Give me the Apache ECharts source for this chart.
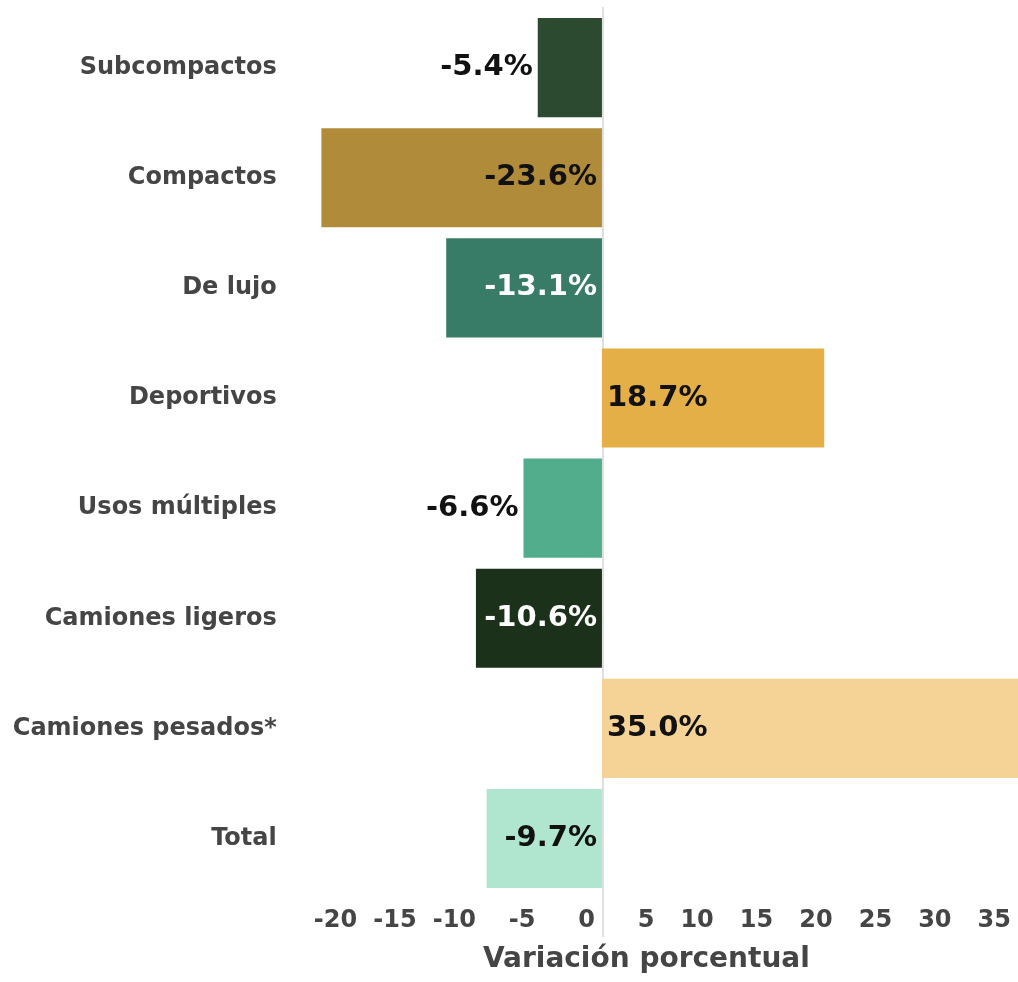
<!DOCTYPE html>
<html>
<head>
<meta charset="utf-8">
<script src="https://cdn.jsdelivr.net/npm/echarts@6/dist/echarts.min.js"></script>
<style>
  html, body { margin: 0; padding: 0; background: #ffffff; }
  #chart { width: 1018px; height: 982px; }
</style>
</head>
<body>
<div id="chart"></div>
<script>
// ---- data ----
const categories = ['Subcompactos', 'Compactos', 'De lujo', 'Deportivos', 'Usos múltiples', 'Camiones ligeros', 'Camiones pesados*', 'Total'];
const values = [-5.4, -23.6, -13.1, 18.7, -6.6, -10.6, 35.0, -9.7];
const tickValues = [-20, -15, -10, -5, 0, 5, 10, 15, 20, 25, 30, 35];
const axisTitle = 'Variación porcentual';

// ---- style ----
const barColors = ['#2b4a2f', '#b08b3a', '#387c68', '#e4af47', '#52ad8d', '#1c3119', '#f5d295', '#b0e6d0'];
const labelColors = ['#111111', '#111111', '#ffffff', '#111111', '#111111', '#ffffff', '#111111', '#111111'];
const FONT = '"DejaVu Sans", sans-serif';
const GRAY = '#454545';

const chart = echarts.init(document.getElementById('chart'), null, { renderer: 'canvas' });

const seriesData = values.map((v, i) => {
  let pos;
  if (v >= 0) pos = 'insideLeft';
  else if (Math.abs(v) < 8) pos = 'left';
  else pos = 'insideRight';
  return {
    value: v,
    itemStyle: { color: barColors[i] },
    label: { position: pos, color: labelColors[i] }
  };
});

const option = {
  animation: false,
  backgroundColor: '#ffffff',
  grid: { left: 304.75, right: -3.75, top: 12.6, bottom: 88.4, containLabel: false },
  xAxis: {
    type: 'value',
    min: -25,
    max: 35,
    interval: 5,
    splitLine: { show: false },
    axisLine: { show: false },
    axisTick: { show: false },
    axisLabel: {
      showMaxLabel: true,
      showMinLabel: true,
      margin: 15,
      align: 'right',
      padding: [0, 7, 0, 0],
      fontFamily: FONT,
      fontWeight: 'bold',
      fontSize: 24,
      color: GRAY,
      formatter: v => (tickValues.indexOf(v) >= 0 ? String(v) : '')
    },
    name: axisTitle,
    nameLocation: 'middle',
    nameGap: 52,
    nameTextStyle: {
      fontFamily: FONT,
      fontWeight: 'bold',
      fontSize: 28,
      color: GRAY,
      padding: [0, 30, 0, 0]
    }
  },
  yAxis: {
    type: 'category',
    data: categories,
    inverse: true,
    axisLine: { show: false },
    axisTick: { show: false },
    splitLine: { show: false },
    axisLabel: {
      margin: 28,
      fontFamily: FONT,
      fontWeight: 'bold',
      fontSize: 24,
      color: GRAY,
      padding: [4, 0, 0, 0]
    }
  },
  series: [{
    type: 'bar',
    data: seriesData,
    barCategoryGap: '10%',
    z: 3,
    label: {
      show: true,
      distance: 5,
      fontFamily: FONT,
      fontWeight: 'bold',
      fontSize: 29,
      formatter: p => p.value.toFixed(1) + '%'
    }
  }]
};

chart.setOption(option);

// zero reference line, placed through the axis scale
const x0 = chart.convertToPixel({ xAxisIndex: 0 }, 0);
chart.setOption({
  graphic: [{
    type: 'line',
    z: 1,
    silent: true,
    shape: { x1: x0 + 1, y1: 7, x2: x0 + 1, y2: 937 },
    style: { stroke: '#dedede', lineWidth: 2 }
  }]
});
</script>
</body>
</html>
